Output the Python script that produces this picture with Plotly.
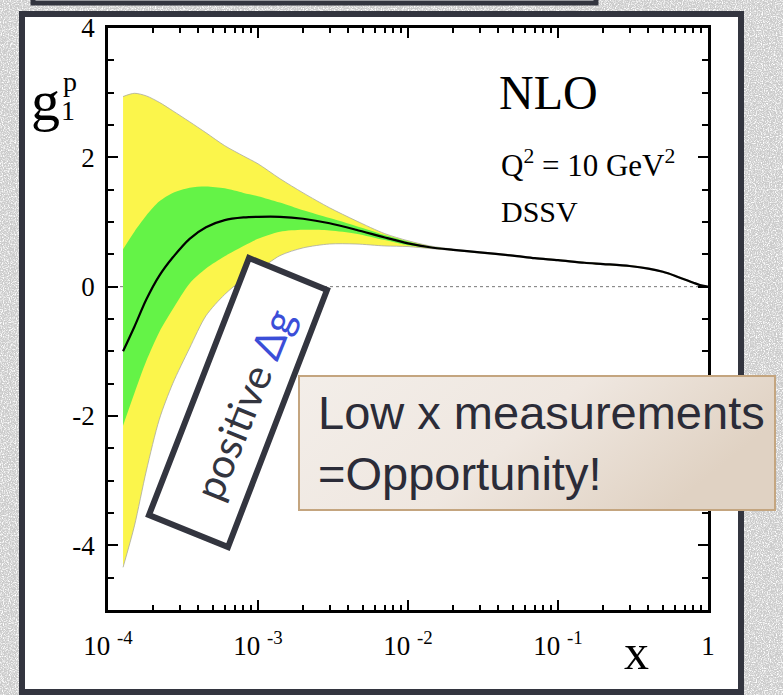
import base64
import plotly.graph_objects as go

# ---------------- data ----------------
x_vals = [1.26e-4, 1.5e-4, 1.8e-4, 2.2e-4, 2.7e-4, 3.5e-4, 4.5e-4, 6e-4, 8e-4, 1.0e-3,
          1.4e-3, 2e-3, 3e-3, 4.5e-3, 7e-3, 1e-2, 1.4e-2, 2e-2, 3e-2, 5e-2, 7e-2, 0.1,
          0.15, 0.2, 0.3, 0.4, 0.5, 0.6, 0.7, 0.8, 0.9, 1.0]

g1p_central = [-1.0, -0.62, -0.2, 0.17, 0.45, 0.74, 0.92, 1.03, 1.07, 1.08,
               1.08, 1.05, 0.98, 0.88, 0.76, 0.67, 0.61, 0.57, 0.53, 0.48, 0.44, 0.41,
               0.37, 0.35, 0.32, 0.28, 0.23, 0.17, 0.11, 0.06, 0.02, 0.0]

green_upper = [0.58, 0.85, 1.1, 1.32, 1.45, 1.53, 1.55, 1.52, 1.45, 1.40,
               1.30, 1.18, 1.06, 0.94, 0.80, 0.70, 0.62, 0.575, 0.535, 0.485, 0.445, 0.415,
               0.375, 0.355, 0.325, 0.285, 0.235, 0.175, 0.115, 0.065, 0.022, 0.0]
green_lower = [-2.15, -1.65, -1.15, -0.7, -0.35, 0.05, 0.28, 0.47, 0.63, 0.74,
               0.85, 0.88, 0.87, 0.82, 0.72, 0.64, 0.60, 0.565, 0.525, 0.475, 0.435, 0.405,
               0.365, 0.345, 0.315, 0.275, 0.225, 0.165, 0.105, 0.055, 0.018, 0.0]

yellow_upper = [2.94, 2.99, 2.95, 2.85, 2.72, 2.55, 2.38, 2.18, 2.02, 1.9,
                1.67, 1.45, 1.22, 1.02, 0.82, 0.71, 0.63, 0.58, 0.54, 0.49, 0.45, 0.42,
                0.38, 0.36, 0.33, 0.29, 0.24, 0.18, 0.12, 0.07, 0.025, 0.0]
yellow_lower = [-4.34, -3.7, -2.85, -2.05, -1.5, -0.95, -0.45, -0.12, 0.12, 0.25,
                0.48, 0.60, 0.66, 0.66, 0.63, 0.62, 0.59, 0.56, 0.52, 0.47, 0.43, 0.40,
                0.36, 0.34, 0.31, 0.27, 0.22, 0.16, 0.10, 0.05, 0.015, 0.0]

x_tick_vals = [1e-4, 1e-3, 1e-2, 1e-1, 1]
x_tick_text = ["10 <sup>-4</sup>", "10 <sup>-3</sup>", "10 <sup>-2</sup>", "10 <sup>-1</sup>", "1"]
x_minor_vals = [k * 10.0 ** d for d in range(-4, 0) for k in range(2, 10)]
y_tick_vals = [-4, -2, 0, 2, 4]
y_tick_text = ["-4", "-2", "0", "2", "4"]
y_minor_vals = [v / 2 for v in range(-10, 9) if v % 4 != 0]

# ---------------- geometry helpers (pixel -> paper) ----------------
W_FIG, H_FIG = 783, 695
L, R, T, B = 108, 708, 28, 610


def px(x):
    return (x - L) / (R - L)


def py(y):
    return (B - y) / (B - T)


SERIF = "Liberation Serif"
DARK = "#33353f"

fig = go.Figure()

# yellow band
fig.add_trace(go.Scatter(
    x=x_vals + x_vals[::-1], y=yellow_upper + yellow_lower[::-1],
    fill="toself", fillcolor="#fbf54b", mode="lines", line_shape="spline",
    line=dict(color="#a9a9a0", width=0.8, smoothing=0.8), hoverinfo="skip", showlegend=False))
# green band
fig.add_trace(go.Scatter(
    x=x_vals + x_vals[::-1], y=green_upper + green_lower[::-1],
    fill="toself", fillcolor="#64f347", mode="lines", line_shape="spline",
    line=dict(color="#64f347", width=0, smoothing=0.8), hoverinfo="skip", showlegend=False))
# central curve
fig.add_trace(go.Scatter(
    x=x_vals, y=g1p_central, mode="lines", line=dict(color="black", width=2.2, smoothing=0.8),
    line_shape="spline", hoverinfo="skip", showlegend=False))

# ---------------- background texture and panels ----------------
noise_svg = f'''<svg xmlns="http://www.w3.org/2000/svg" width="{W_FIG}" height="{H_FIG}">
<filter id="n" x="0" y="0" width="100%" height="100%">
<feTurbulence type="fractalNoise" baseFrequency="0.85" numOctaves="2" seed="4"/>
<feColorMatrix type="matrix" values="0 0 0 0 1  0 0 0 0 1  0 0 0 0 1  3.2 0 0 0 -1.4"/>
</filter>
<rect width="100%" height="100%" fill="#cbcbcb"/>
<rect width="100%" height="100%" filter="url(#n)"/>
</svg>'''
noise_src = "data:image/svg+xml;base64," + base64.b64encode(noise_svg.encode()).decode()

box_w, box_h = 478, 136
grad_svg = f'''<svg xmlns="http://www.w3.org/2000/svg" width="{box_w}" height="{box_h}" viewBox="0 0 {box_w} {box_h}" preserveAspectRatio="none">
<defs><linearGradient id="g" x1="0" y1="0" x2="1" y2="0.35">
<stop offset="0" stop-color="#f3eee9"/><stop offset="0.55" stop-color="#efe7e0"/><stop offset="1" stop-color="#e0d2c3"/>
</linearGradient></defs>
<rect x="1" y="1" width="{box_w-2}" height="{box_h-2}" fill="url(#g)" stroke="#c4a57f" stroke-width="2"/>
</svg>'''
grad_src = "data:image/svg+xml;base64," + base64.b64encode(grad_svg.encode()).decode()

images = [
    dict(source=noise_src, xref="paper", yref="paper", x=px(0), y=py(0),
         sizex=W_FIG / (R - L), sizey=H_FIG / (B - T), sizing="stretch",
         xanchor="left", yanchor="top", layer="below"),
    dict(source=grad_src, xref="paper", yref="paper", x=px(298), y=py(375),
         sizex=box_w / (R - L), sizey=box_h / (B - T), sizing="stretch",
         xanchor="left", yanchor="top", layer="above"),
]

shapes = [
    # top box edge
    dict(type="rect", xref="paper", yref="paper", x0=px(33), x1=px(596), y0=py(3), y1=py(-30),
         fillcolor="white", line=dict(color=DARK, width=5), layer="below"),
    # main white panel
    dict(type="rect", xref="paper", yref="paper", x0=px(22), x1=px(741), y0=py(692), y1=py(14),
         fillcolor="white", line=dict(color=DARK, width=6), layer="below"),
    # dotted zero line
    dict(type="line", xref="paper", yref="y", x0=0, x1=1, y0=0, y1=0,
         line=dict(color="#777777", width=1, dash="dot"), layer="below"),
    # rotated "positive Δg" box
    dict(type="path", xref="paper", yref="paper",
         path=(f"M {px(249)} {py(258)} L {px(327)} {py(290)} "
               f"L {px(228)} {py(547)} L {px(149)} {py(515)} Z"),
         fillcolor="white", line=dict(color=DARK, width=6), layer="above"),
]

annotations = [
    dict(text="NLO", x=px(548), y=py(92), font=dict(family=SERIF, size=48, color="black")),
    dict(text="Q<sup>2</sup> = 10 GeV<sup>2</sup>", x=px(499), y=py(164), xanchor="left",
         font=dict(family=SERIF, size=31, color="black")),
    dict(text="DSSV", x=px(499), y=py(211), xanchor="left",
         font=dict(family=SERIF, size=30, color="black")),
    dict(text="g", x=px(45), y=py(100), font=dict(family=SERIF, size=58, color="black")),
    dict(text="p", x=px(70), y=py(81), font=dict(family=SERIF, size=28, color="black")),
    dict(text="1", x=px(68), y=py(110), font=dict(family=SERIF, size=28, color="black")),
    dict(text="x", x=px(636), y=py(652), font=dict(family=SERIF, size=50, color="black")),
    dict(text='positive <span style="color:#3b4ed8">Δg</span>', x=px(244), y=py(405),
         textangle=-68, font=dict(family="Lato", size=41, color=DARK)),
    dict(text="Low x measurements<br>=Opportunity!", x=px(316), y=py(443), xanchor="left",
         align="left", font=dict(family="Liberation Sans", size=47, color="#2b2c38")),
]
for a in annotations:
    a.setdefault("xref", "paper")
    a.setdefault("yref", "paper")
    a.setdefault("showarrow", False)
    a.setdefault("xanchor", "center")
    a.setdefault("yanchor", "middle")

fig.update_layout(
    width=W_FIG, height=H_FIG, autosize=False,
    margin=dict(l=L, r=W_FIG - R, t=T, b=H_FIG - B, pad=0),
    paper_bgcolor="#d3d3d3", plot_bgcolor="white",
    shapes=shapes, images=images, annotations=annotations,
    showlegend=False,
)
fig.update_xaxes(
    type="log", range=[-4, 0], tickmode="array", tickvals=x_tick_vals, ticktext=x_tick_text,
    ticks="inside", ticklen=10, tickwidth=2, tickcolor="black",
    showline=True, linecolor="black", linewidth=2.5, mirror="ticks", showgrid=False, zeroline=False,
    tickfont=dict(family=SERIF, size=27, color="black"), ticklabelstandoff=10,
    minor=dict(tickmode="array", tickvals=x_minor_vals, ticks="inside", ticklen=5, tickwidth=1.6,
               tickcolor="black", showgrid=False),
)
fig.update_yaxes(
    range=[-5, 4], tickmode="array", tickvals=y_tick_vals, ticktext=y_tick_text,
    ticks="inside", ticklen=10, tickwidth=2, tickcolor="black",
    showline=True, linecolor="black", linewidth=2.5, mirror="ticks", showgrid=False, zeroline=False,
    tickfont=dict(family=SERIF, size=27, color="black"), ticklabelstandoff=5,
    minor=dict(tickmode="array", tickvals=y_minor_vals, ticks="inside", ticklen=6, tickwidth=1.6,
               tickcolor="black", showgrid=False),
)

fig.write_html("out.html")
